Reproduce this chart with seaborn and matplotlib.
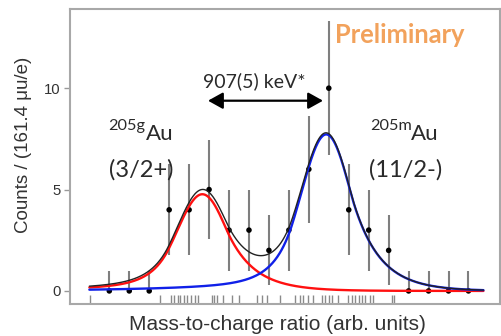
import math
import numpy as np
import pandas as pd
import seaborn as sns
import matplotlib.pyplot as plt

# ---- measured spectrum (one entry per bin, arbitrary mass-to-charge units) ----
bin_centers = [0, 1, 2, 3, 4, 5, 6, 7, 8, 9, 10, 11, 12, 13, 14, 15, 16, 17, 18]
counts = [0, 0, 0, 4, 4, 5, 3, 3, 2, 3, 6, 10, 4, 3, 2, 0, 0, 0, 0]
count_err = [1.0, 1.0, 1.0, 2.24, 2.24, 2.45, 2.0, 2.0, 1.73, 2.0,
             2.65, 3.32, 2.24, 2.0, 1.73, 1.0, 1.0, 1.0, 1.0]

# individual events (rug)
events = [-0.98, 2.54, 3.09, 3.26, 3.43, 3.54, 3.74, 3.88, 4.08, 4.30, 4.43,
          5.13, 5.26, 5.38, 5.70, 6.14, 6.50, 7.39, 7.64, 7.89, 8.56, 9.31,
          9.56, 9.71, 9.96, 10.21, 10.68, 10.81, 11.01, 11.18, 11.45, 11.96,
          12.15, 12.32, 12.52, 12.65, 12.82, 13.07, 13.23, 14.16, 14.29]

# ---- fit result: two peaks with a common line shape ----
ground_pos, ground_height = 4.70, 4.77
isomer_pos, isomer_height = 10.91, 7.72
sigma = 1.25
k_right = 0.9
k_left = 1.4
tail_frac = 0.12
tail_tau = 4.5
fit_range = (-1.0, 18.75)

_erfc = np.vectorize(math.erfc)


def line_shape(d):
    d = np.asarray(d, dtype=float)
    core = np.where(
        d > k_right * sigma,
        np.exp(k_right ** 2 / 2 - k_right * d / sigma),
        np.where(d < -k_left * sigma,
                 np.exp(k_left ** 2 / 2 + k_left * d / sigma),
                 np.exp(-d ** 2 / (2 * sigma ** 2))))
    tail = tail_frac * np.exp(np.minimum(d, 30) / tail_tau) * 0.5 * _erfc(d / (math.sqrt(2) * sigma))
    return core + tail


peak_norm = line_shape(np.linspace(-6, 6, 4001)).max()

x_fit = np.linspace(fit_range[0], fit_range[1], 800)
ground = ground_height * line_shape(x_fit - ground_pos) / peak_norm
isomer = isomer_height * line_shape(x_fit - isomer_pos) / peak_norm
total = ground + isomer

fit_df = pd.DataFrame({"x": x_fit, "ground": ground, "isomer": isomer, "total": total})
data_df = pd.DataFrame({"x": bin_centers, "n": counts, "err": count_err})
data_df["lo"] = np.maximum(0, data_df["n"] - data_df["err"])
data_df["hi"] = data_df["n"] + data_df["err"]

# ---- figure ----
sns.set_theme(style="white")
plt.rcParams["font.family"] = ["Liberation Sans", "DejaVu Sans"]

W, H = 502, 336
fig = plt.figure(figsize=(W / 100, H / 100), dpi=100)
ax = fig.add_axes([70 / W, (H - 303.7) / H, 430 / W, (303.7 - 8.5) / H])

ax.vlines(data_df["x"], data_df["lo"], data_df["hi"], color="#7f7f7f", lw=1.5, zorder=2)
sns.scatterplot(data=data_df, x="x", y="n", color="black", s=16, edgecolor="none",
                ax=ax, zorder=3, legend=False)

sns.lineplot(data=fit_df, x="x", y="ground", color="#ff1010", lw=1.7, ax=ax, zorder=4)
sns.lineplot(data=fit_df, x="x", y="isomer", color="#1020e8", lw=1.7, ax=ax, zorder=4)
sns.lineplot(data=fit_df, x="x", y="total", color="#222222", lw=1.0, ax=ax, zorder=5)

sns.rugplot(x=events, height=0.03, color="#8a8a8a", lw=0.9, ax=ax)

ax.set_xlim(-1.97, 19.58)
ax.set_ylim(-0.63, 13.93)
ax.set_xticks([])
ax.set_yticks([0, 5, 10])
ax.tick_params(axis="y", left=True, length=4, width=1, color="#999999",
               labelsize=10.7, labelcolor="#333333", pad=3)
ax.set_xlabel("")
ax.set_ylabel("")
for sp in ax.spines.values():
    sp.set_color("#a8a8a8")
    sp.set_linewidth(1.5)


def px(x, y):
    return x / W, 1 - y / H


fig.text(*px(24, 145), "Counts / (161.4 μu/e)", rotation=90, ha="center", va="center",
         fontsize=13.5, color="#333333")
fig.text(*px(277.5, 330.5), "Mass-to-charge ratio (arb. units)", ha="center", va="baseline",
         fontsize=15, color="#333333")

label_font = ["Lato", "DejaVu Sans"]
ink = "#2a2a2a"
fig.text(*px(108, 130), "205g", fontsize=11.7, family=label_font, color=ink, va="baseline")
fig.text(*px(146, 140), "Au", fontsize=16, family=label_font, color=ink, va="baseline")
fig.text(*px(109, 177), "(3/2+)", fontsize=17, family=label_font, color=ink, va="baseline")
fig.text(*px(370, 130), "205m", fontsize=11.7, family=label_font, color=ink, va="baseline")
fig.text(*px(411, 140), "Au", fontsize=16, family=label_font, color=ink, va="baseline")
fig.text(*px(369, 177), "(11/2-)", fontsize=17, family=label_font, color=ink, va="baseline")

fig.text(*px(203, 86.7), "907(5) keV*", fontsize=14, family=label_font, color=ink, va="baseline")
ax.annotate("", xy=px(323, 100.7), xytext=px(208, 100.7), xycoords="figure fraction",
            textcoords="figure fraction",
            arrowprops=dict(arrowstyle="<|-|>,head_length=0.9,head_width=0.5",
                            mutation_scale=10, color="black", lw=1.6, shrinkA=0, shrinkB=0))

fig.text(*px(335, 43), "Preliminary", fontsize=18.4, family=label_font, fontweight="bold",
         color="#f2a25c", va="baseline")

fig.savefig("out.png", dpi=100)
